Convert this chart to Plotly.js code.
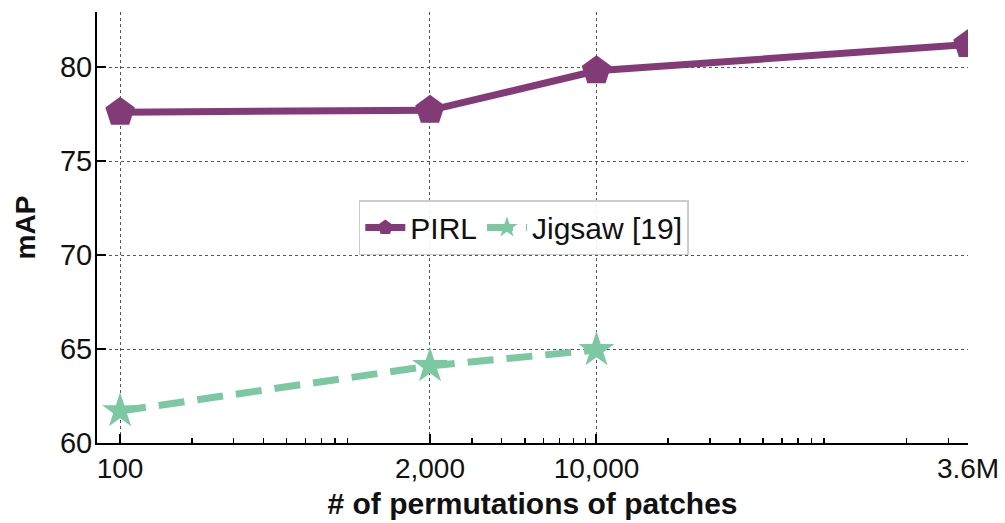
<!DOCTYPE html>
<html>
<head>
<meta charset="utf-8">
<script src="https://cdn.plot.ly/plotly-3.0.1.min.js"></script>
<style>html,body{margin:0;padding:0;background:#fff;}#chart{width:1005px;height:523px;}</style>
</head>
<body>
<div id="chart"></div>
<script>
// Data
const permutations = [100, 2000, 10000, 362880];
const tickLabels = ["100", "2,000", "10,000", "3.6M"];
const pirl = [77.6, 77.7, 79.8, 81.2];
const jigsawPerms = [100, 2000, 10000];
const jigsaw = [61.7, 64.1, 64.95];

const purple = "#823b76";
const green = "#7cc8a2";

// minor tick values (2..9 per decade)
const minorVals = [];
for (let d = 100; d <= 100000; d *= 10) {
  for (let k = 2; k <= 9; k++) minorVals.push(k * d);
}

const traces = [
  {
    x: permutations, y: pirl, name: "PIRL", type: "scatter", mode: "lines+markers",
    line: {color: purple, width: 7},
    marker: {symbol: "pentagon", size: 31, color: purple}
  },
  {
    x: jigsawPerms, y: jigsaw, name: "Jigsaw [19]", type: "scatter", mode: "lines+markers",
    line: {color: green, width: 7, dash: "26px,13px"},
    marker: {symbol: "star", size: 27, color: green}
  }
];

const font = "'Liberation Sans', Arial, Helvetica, sans-serif";

const layout = {
  width: 1005, height: 523,
  margin: {l: 97, r: 37, t: 12, b: 80},
  paper_bgcolor: "#fff", plot_bgcolor: "#fff",
  font: {family: font, color: "#111", size: 28},
  showlegend: true,
  legend: {
    orientation: "h", x: 0.49, y: 0.5, xanchor: "center", yanchor: "middle",
    bgcolor: "rgba(255,255,255,0.9)", bordercolor: "#cccccc", borderwidth: 1.5,
    font: {size: 30, family: font, color: "#111"}, itemwidth: 40
  },
  xaxis: {
    type: "log",
    range: [Math.log10(80), Math.log10(362880)],
    tickmode: "array", tickvals: permutations, ticktext: tickLabels,
    ticks: "inside", ticklen: 9, tickwidth: 2, tickcolor: "#000",
    tickfont: {size: 28},
    ticklabelstandoff: -1,
    showline: true, linecolor: "#000", linewidth: 2, mirror: false,
    showgrid: true, gridcolor: "#555", griddash: "dot", gridwidth: 1,
    zeroline: false,
    minor: {tickmode: "array", tickvals: minorVals, ticks: "inside", ticklen: 5, tickwidth: 1.5, tickcolor: "#000", showgrid: false},
    title: {text: "# of permutations of patches", font: {size: 30, family: font, weight: "bold"}, standoff: 10}
  },
  yaxis: {
    range: [60, 82.93],
    tickvals: [60, 65, 70, 75, 80],
    ticks: "inside", ticklen: 9, tickwidth: 2, tickcolor: "#000",
    tickfont: {size: 29},
    ticklabelstandoff: -3,
    showline: true, linecolor: "#000", linewidth: 2,
    showgrid: true, gridcolor: "#555", griddash: "dot", gridwidth: 1,
    zeroline: false,
    title: {text: "mAP", font: {size: 28, family: font, weight: "bold"}, standoff: 16}
  }
};

Plotly.newPlot("chart", traces, layout, {displayModeBar: false, staticPlot: true});
</script>
</body>
</html>
